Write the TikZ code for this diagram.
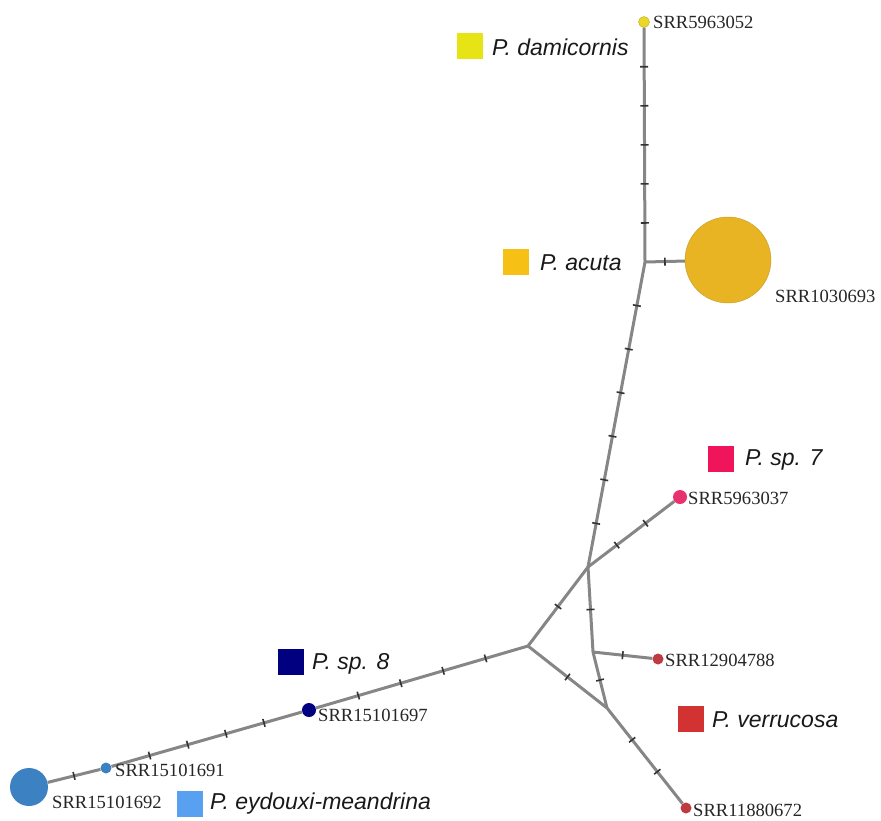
\documentclass[tikz,border=0pt]{standalone}
\usepackage{fontspec}
\setmainfont{Liberation Serif}
\newfontfamily\spfont{Liberation Sans}
\usepackage{xcolor}
\usepackage{tikz}

\definecolor{cdami}{RGB}{230,228,20}
\definecolor{cdaminode}{RGB}{235,215,40}
\definecolor{cacuta}{RGB}{246,192,20}
\definecolor{cacutanode}{RGB}{232,180,35}
\definecolor{csp7}{RGB}{240,20,90}
\definecolor{csp7node}{RGB}{232,50,110}
\definecolor{csp8}{RGB}{0,0,128}
\definecolor{cverr}{RGB}{210,50,50}
\definecolor{cverrnode}{RGB}{190,60,65}
\definecolor{ceyd}{RGB}{90,160,240}
\definecolor{ceydnode}{RGB}{60,130,195}

\tikzset{
  edge/.style={draw=gray!95, line width=3pt},
  tick/.style={sloped, inner sep=0pt, minimum width=1.6pt, minimum height=8pt, fill=black!80},
  hap/.style={circle, inner sep=0pt, minimum size=#1},
  lab/.style={anchor=west, inner sep=0pt, text=black!85, font=\fontsize{18.6}{20}\selectfont},
  sp/.style={anchor=west, inner sep=0pt, text=black!90, font=\spfont\itshape\fontsize{23}{25}\selectfont},
  key/.style={minimum size=26pt, inner sep=0pt}
}

% edge between two haplotypes with #3 mutation ticks
\newcommand{\mutedge}[3]{%
  \draw[edge] (#1) -- (#2);
  \foreach \k [evaluate=\k as \p using \k/(#3+1)] in {1,...,#3}
    \path (#1) -- (#2) node[tick, pos=\p] (#1-#2-\k) {};
}

\begin{document}
\begin{tikzpicture}[x=1pt, y=-1pt]
        \useasboundingbox (0,0) rectangle (881,820);

        \node[hap=11pt, fill=cdaminode, draw=cdaminode!80!black] (s052) at (644,22) {};
        \node[hap=86pt, fill=cacutanode, draw=cacutanode!85!black] (s693) at (728,260) {};
        \node[hap=14pt, fill=csp7node] (s037) at (680,497) {};
        \node[hap=11pt, fill=cverrnode] (s788) at (658,659) {};
        \node[hap=11pt, fill=cverrnode] (s672) at (686,808) {};
        \node[hap=14pt, fill=csp8] (s697) at (309,710) {};
        \node[hap=11pt, fill=ceydnode] (s691) at (106,768) {};
        \node[hap=38pt, fill=ceydnode] (s692) at (29,787) {};

        \coordinate (j1) at (645,262);
        \coordinate (j2) at (588,567);
        \coordinate (j3) at (528,646);
        \coordinate (j4) at (593,652);
        \coordinate (j5) at (607,708);

        \mutedge{s052}{j1}{5}
        \mutedge{j1}{s693}{1}
        \mutedge{j1}{j2}{6}
        \mutedge{j2}{s037}{2}
        \mutedge{j2}{j3}{1}
        \mutedge{j2}{j4}{1}
        \mutedge{j4}{s788}{1}
        \mutedge{j4}{j5}{1}
        \mutedge{j3}{j5}{1}
        \mutedge{j5}{s672}{2}
        \mutedge{j3}{s697}{4}
        \mutedge{s697}{s691}{4}
        \mutedge{s691}{s692}{1}

        \node[lab] (l052) at (653,22) {SRR5963052};
        \node[lab] (l693) at (775,296) {SRR1030693};
        \node[lab] (l037) at (688,498) {SRR5963037};
        \node[lab] (l788) at (665,660) {SRR12904788};
        \node[lab] (l672) at (693,810) {SRR11880672};
        \node[lab] (l697) at (318,715) {SRR15101697};
        \node[lab] (l691) at (115,770) {SRR15101691};
        \node[lab] (l692) at (52,802) {SRR15101692};

        \node[key, fill=cdami] (kdami) at (470,46) {};
        \node[sp] (tdami) at (492,47) {P. damicornis};
        \node[key, fill=cacuta] (kacuta) at (516,262) {};
        \node[sp] (tacuta) at (540,263) {P. acuta};
        \node[key, fill=csp7] (ksp7) at (721,459) {};
        \node[sp] (tsp7) at (745,460) {P. sp. 7};
        \node[key, fill=csp8] (ksp8) at (291,662) {};
        \node[sp] (tsp8) at (312,664) {P. sp. 8};
        \node[key, fill=cverr] (kverr) at (691,719) {};
        \node[sp] (tverr) at (712,720) {P. verrucosa};
        \node[key, fill=ceyd] (keyd) at (190,804) {};
        \node[sp] (teyd) at (210,804) {P. eydouxi-meandrina};
    \end{tikzpicture}
\end{document}
